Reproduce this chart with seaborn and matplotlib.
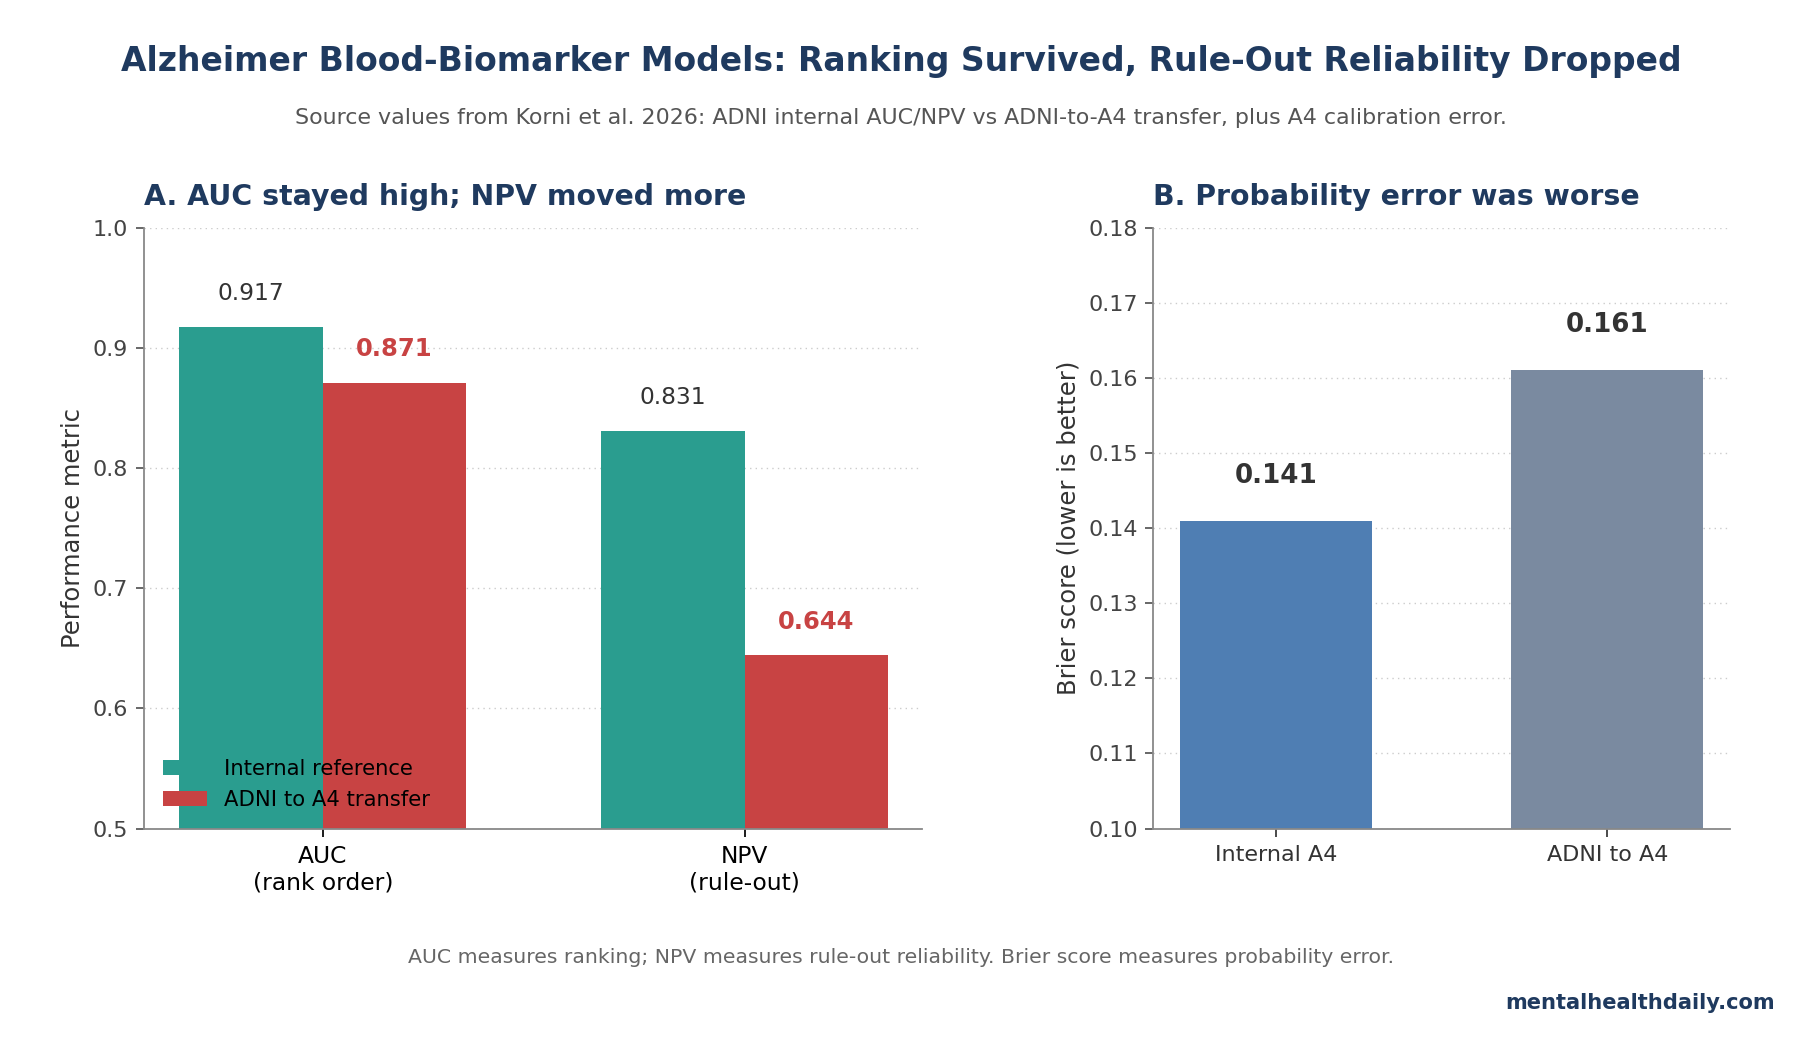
import matplotlib
matplotlib.use("Agg")
import matplotlib.pyplot as plt
import seaborn as sns
import pandas as pd

# ---- data ----
metrics = ["AUC\n(rank order)", "NPV\n(rule-out)"]
internal_vals = [0.917, 0.831]
transfer_vals = [0.871, 0.644]
series_names = ["Internal reference", "ADNI to A4 transfer"]
brier_labels = ["Internal A4", "ADNI to A4"]
brier_vals = [0.141, 0.161]
yticks_a = [0.5, 0.6, 0.7, 0.8, 0.9, 1.0]
yticks_b = [0.10, 0.11, 0.12, 0.13, 0.14, 0.15, 0.16, 0.17, 0.18]

TEAL = "#2a9d8f"
RED = "#c84343"
BLUE = "#4f7eb3"
SLATE = "#7a8aa0"
NAVY = "#1f3a5f"

sns.set_theme(style="white")
plt.rcParams["font.family"] = ["DejaVu Sans"]

fig = plt.figure(figsize=(18.02, 10.37), dpi=100)
axA = fig.add_axes([0.0797, 0.201, 0.4318, 0.5795])
axB = fig.add_axes([0.640, 0.201, 0.320, 0.5795])

dfA = pd.DataFrame({
    "metric": metrics * 2,
    "value": internal_vals + transfer_vals,
    "series": [series_names[0]] * 2 + [series_names[1]] * 2,
})
sns.barplot(data=dfA, x="metric", y="value", hue="series", order=metrics,
            hue_order=series_names, palette=[TEAL, RED], width=0.68,
            saturation=1, ax=axA, legend=True, linewidth=0, edgecolor="none")

axA.set_ylim(0.5, 1.0)
axA.set_xlim(-0.425, 1.42)
axA.set_yticks(yticks_a)
axA.set_yticklabels([f"{t:.1f}" for t in yticks_a])
axA.set_xlabel("")
axA.set_ylabel("Performance metric", fontsize=17.5, color="#333333", labelpad=6)
axA.tick_params(axis="y", labelsize=16, labelcolor="#444444", colors="#555555", length=6, left=True, pad=5)
axA.tick_params(axis="x", labelsize=16.8, labelcolor="black", colors="black", length=6, bottom=True, pad=6)
axA.grid(axis="y", linestyle=(0, (1, 3)), color="#cccccc", linewidth=1)
axA.set_axisbelow(True)
for s in ["top", "right"]:
    axA.spines[s].set_visible(False)
for s in ["left", "bottom"]:
    axA.spines[s].set_color("#888888")
    axA.spines[s].set_linewidth(1.3)
axA.set_title("A. AUC stayed high; NPV moved more", loc="left", fontsize=20.4,
              fontweight="bold", color=NAVY, pad=16)

# value labels
cont_int, cont_tr = axA.containers[0], axA.containers[1]
for bar, v in zip(cont_int, internal_vals):
    axA.text(bar.get_x() + bar.get_width() / 2, v + 0.028, f"{v:.3f}",
             ha="center", va="center", fontsize=16.8, color="#333333")
for bar, v in zip(cont_tr, transfer_vals):
    axA.text(bar.get_x() + bar.get_width() / 2, v + 0.028, f"{v:.3f}",
             ha="center", va="center", fontsize=17.5, color=RED, fontweight="bold")

leg = axA.legend(loc="lower left", frameon=False, fontsize=15.2, handlelength=2.1,
                 handletextpad=0.8, bbox_to_anchor=(0.0, 0.0))
for t in leg.get_texts():
    t.set_color("black")
for h in leg.legend_handles:
    h.set_edgecolor("none")
    h.set_linewidth(0)

# panel B
dfB = pd.DataFrame({"label": brier_labels, "value": brier_vals})
sns.barplot(data=dfB, x="label", y="value", hue="label", palette=[BLUE, SLATE],
            width=0.58, saturation=1, ax=axB, legend=False, linewidth=0, edgecolor="none")
axB.set_ylim(0.10, 0.18)
axB.set_xlim(-0.37, 1.37)
axB.set_yticks(yticks_b)
axB.set_yticklabels([f"{t:.2f}" for t in yticks_b])
axB.set_xlabel("")
axB.set_ylabel("Brier score (lower is better)", fontsize=17.5, color="#333333", labelpad=6)
axB.tick_params(axis="y", labelsize=16, labelcolor="#444444", colors="#555555", length=6, left=True, pad=5)
axB.tick_params(axis="x", labelsize=16, labelcolor="#333333", colors="#333333", length=6, bottom=True, pad=6)
axB.grid(axis="y", linestyle=(0, (1, 3)), color="#cccccc", linewidth=1)
axB.set_axisbelow(True)
for s in ["top", "right"]:
    axB.spines[s].set_visible(False)
for s in ["left", "bottom"]:
    axB.spines[s].set_color("#888888")
    axB.spines[s].set_linewidth(1.3)
axB.set_title("B. Probability error was worse", loc="left", fontsize=20.4,
              fontweight="bold", color=NAVY, pad=16)
bars_b = [p for c in axB.containers for p in c]
for bar, v in zip(bars_b, brier_vals):
    axB.text(bar.get_x() + bar.get_width() / 2, v + 0.006, f"{v:.3f}",
             ha="center", va="center", fontsize=18.8, color="#333333", fontweight="bold")

fig.text(0.5, 0.941, "Alzheimer Blood-Biomarker Models: Ranking Survived, Rule-Out Reliability Dropped",
         ha="center", va="center", fontsize=23.8, fontweight="bold", color=NAVY)
fig.text(0.5, 0.886, "Source values from Korni et al. 2026: ADNI internal AUC/NPV vs ADNI-to-A4 transfer, plus A4 calibration error.",
         ha="center", va="center", fontsize=15.9, color="#555555")
fig.text(0.5, 0.077, "AUC measures ranking; NPV measures rule-out reliability. Brier score measures probability error.",
         ha="center", va="center", fontsize=14.7, color="#666666")
fig.text(0.985, 0.033, "mentalhealthdaily.com", ha="right", va="center",
         fontsize=15.1, fontweight="bold", color=NAVY)

fig.savefig("out.png", dpi=100)
